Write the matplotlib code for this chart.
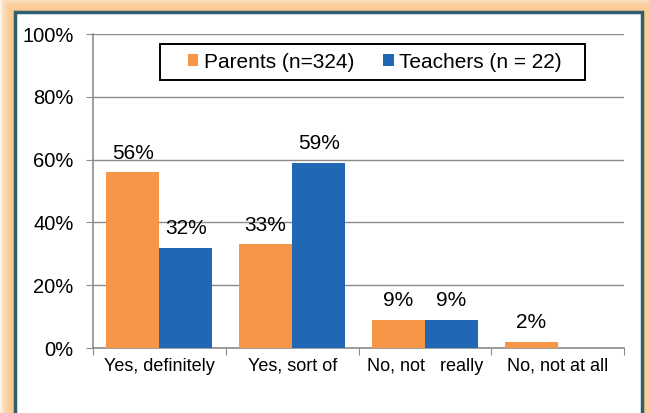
import matplotlib.pyplot as plt
import matplotlib.patches as patches
import numpy as np

categories = ["Yes, definitely", "Yes, sort of", "No, not   really", "No, not at all"]
parents = [56, 33, 9, 2]
teachers = [32, 59, 9, 0]
parent_labels = ["56%", "33%", "9%", "2%"]
teacher_labels = ["32%", "59%", "9%", ""]
yticks = [0, 20, 40, 60, 80, 100]

W, H = 649, 413
fig = plt.figure(figsize=(W / 100, H / 100), dpi=100)
fig.patch.set_facecolor("white")
plt.rcParams["font.family"] = ["Liberation Sans", "DejaVu Sans"]

# Orange glow behind the frame
for i in range(14):
    pad = (14 - i) * 1.1
    glow = patches.Rectangle(((15 - pad) / W, -0.1), (627 + 2 * pad) / W, (413 - 12 + pad) / H + 0.1,
                             transform=fig.transFigure, facecolor="#fbc58a", edgecolor="none",
                             alpha=0.18, zorder=0)
    fig.add_artist(glow)
frame = patches.Rectangle((15 / W, -0.1), 627 / W, (413 - 12) / H + 0.1,
                          transform=fig.transFigure, facecolor="white", edgecolor="#2e5f6e",
                          linewidth=2.5, zorder=1)
fig.add_artist(frame)

ax = fig.add_axes([93 / W, (H - 348) / H, (624 - 93) / W, (348 - 34) / H])
ax.set_zorder(2)
ax.patch.set_alpha(0)

x = np.arange(len(categories))
bw = 0.4
ax.bar(x - bw / 2, parents, bw, color="#f79646", label="Parents (n=324)", zorder=3)
ax.bar(x + bw / 2, teachers, bw, color="#2067b4", label="Teachers (n = 22)", zorder=3)

for xi, v, lab in zip(x, parents, parent_labels):
    ax.text(xi - bw / 2, v + 3, lab, ha="center", va="bottom", fontsize=15, color="#000000")
for xi, v, lab in zip(x, teachers, teacher_labels):
    if lab:
        ax.text(xi + bw / 2, v + 3, lab, ha="center", va="bottom", fontsize=15, color="#000000")

ax.set_xlim(-0.5, len(categories) - 0.5)
ax.set_ylim(0, 100)
ax.set_yticks(yticks)
ax.set_yticklabels(["%d%%" % t for t in yticks], fontsize=14.5)
ax.yaxis.grid(True, color="#8c8c8c", linewidth=1, zorder=0)
ax.set_axisbelow(True)

ax.set_xticks(np.arange(len(categories) + 1) - 0.5, minor=False)
ax.set_xticklabels([])
ax.set_xticks(x, minor=True)
ax.set_xticklabels(categories, minor=True, fontsize=13)
ax.tick_params(axis="x", which="major", length=5, color="#8c8c8c")
ax.tick_params(axis="x", which="minor", length=0, pad=7)
ax.tick_params(axis="y", length=5, color="#8c8c8c", pad=9)

for side in ["top", "right"]:
    ax.spines[side].set_visible(False)
for side in ["left", "bottom"]:
    ax.spines[side].set_color("#8c8c8c")
    ax.spines[side].set_linewidth(1.2)

# legend entries without frame, box drawn separately
leg = ax.legend(loc="center left", bbox_to_anchor=(188 / W, 1 - 62 / H),
                bbox_transform=fig.transFigure, ncol=2,
                fontsize=15, frameon=False, handlelength=0.5,
                handleheight=0.5, handletextpad=0.25, columnspacing=1.4, borderpad=0,
                borderaxespad=0)
leg.set_zorder(5)
legbox = patches.Rectangle((160 / W, 1 - 80 / H), (585 - 160) / W, 36 / H,
                           transform=fig.transFigure, facecolor="white", edgecolor="black",
                           linewidth=1.4, zorder=4)
ax.add_artist(legbox)
legbox.set_clip_on(False)

fig.savefig("out.png", dpi=100)
